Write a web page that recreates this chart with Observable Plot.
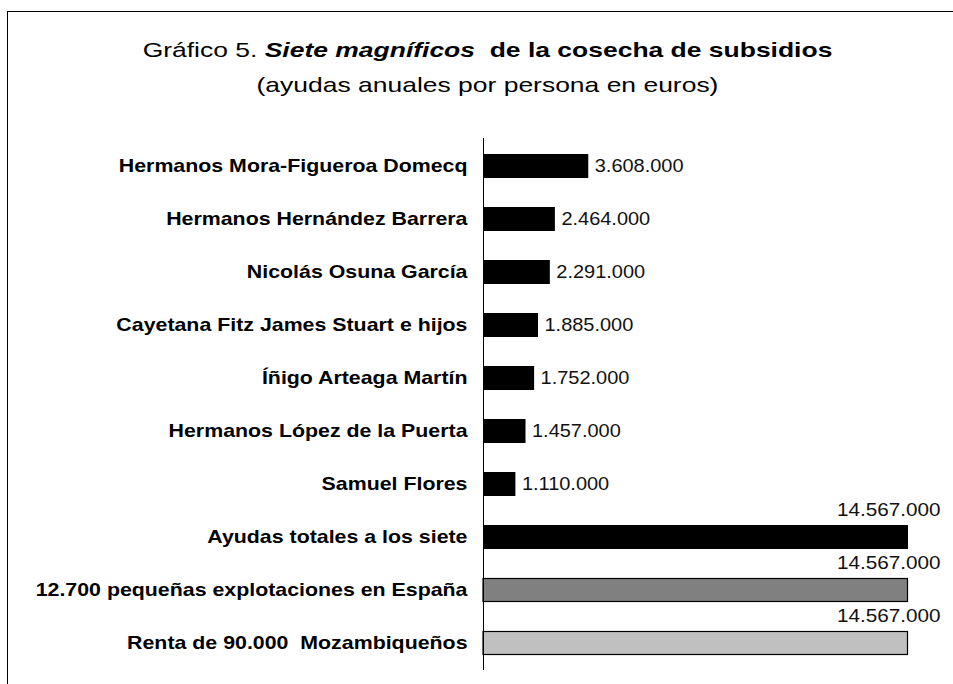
<!DOCTYPE html>
<html>
<head>
<meta charset="utf-8">
<script src="https://cdn.jsdelivr.net/npm/d3@7"></script>
<script src="https://cdn.jsdelivr.net/npm/@observablehq/plot@0.6"></script>
<style>
  html, body { margin: 0; padding: 0; background: #fff; overflow: hidden; }
  body { width: 953px; height: 684px; position: relative; font-family: "Liberation Sans", Arial, sans-serif; }
  #frame { position: absolute; left: 7px; top: 11px; width: 960px; height: 700px; border-left: 1px solid #000; border-top: 1px solid #000; pointer-events: none; }
  #title { height: 120px; box-sizing: border-box; padding-top: 32px; text-align: center; color: #000; font-size: 21px; line-height: 35px; }
  #title .l1, #title .l2 { transform: translateX(11px) scaleX(1.26); transform-origin: 50% 0; white-space: nowrap; }
  #chart svg { display: block; }
</style>
</head>
<body>
<div id="frame"></div>
<div id="title">
  <div class="l1">Gráfico 5. <b><i>Siete magníficos</i></b>&nbsp; <b>de la cosecha de subsidios</b></div>
  <div class="l2">(ayudas anuales por persona en euros)</div>
</div>
<div id="chart"></div>
<script>
const categories = [
  "Hermanos Mora-Figueroa Domecq",
  "Hermanos Hernández Barrera",
  "Nicolás Osuna García",
  "Cayetana Fitz James Stuart e hijos",
  "Íñigo Arteaga Martín",
  "Hermanos López de la Puerta",
  "Samuel Flores",
  "Ayudas totales a los siete",
  "12.700 pequeñas explotaciones en España",
  "Renta de 90.000  Mozambiqueños"
];
const values = [3608000, 2464000, 2291000, 1885000, 1752000, 1457000, 1110000, 14567000, 14567000, 14567000];
const valueLabels = ["3.608.000", "2.464.000", "2.291.000", "1.885.000", "1.752.000", "1.457.000", "1.110.000", "14.567.000", "14.567.000", "14.567.000"];
const fills = ["#000000", "#000000", "#000000", "#000000", "#000000", "#000000", "#000000", "#000000", "#808080", "#c0c0c0"];

const data = categories.map((c, i) => ({name: c, value: values[i], label: valueLabels[i], fill: fills[i], big: i >= 7, outlined: i >= 8}));

const chart = Plot.plot({
  width: 953,
  height: 564,
  marginLeft: 483,
  marginRight: 45,
  marginTop: 18,
  marginBottom: 14,
  style: {fontFamily: "Liberation Sans, Arial, sans-serif", background: "#fff", color: "#000"},
  x: {domain: [0, 14567000], axis: null},
  y: {domain: categories, paddingInner: 0.55, paddingOuter: 0.275, label: null},
  marks: [
    Plot.barX(data.filter(d => !d.outlined), {y: "name", x: "value", fill: "fill"}),
    Plot.barX(data.filter(d => d.outlined), {y: "name", x: "value", fill: "fill", stroke: "#000", strokeWidth: 1.2, insetTop: 0.5, insetBottom: 0.5, insetRight: 0.5}),
    Plot.ruleX([0], {stroke: "#000", strokeWidth: 1}),
    Plot.axisY({tickSize: 0, tickPadding: 16, fontSize: 17.5, fontWeight: "bold", label: null, fill: "#000"}),
    Plot.text(data.filter(d => !d.big), {y: "name", x: "value", text: "label", dx: 6, textAnchor: "start", fontSize: 18, fill: "#111"}),
    Plot.text(data.filter(d => d.big), {y: "name", x: "value", text: "label", dx: 32, dy: -27, textAnchor: "end", fontSize: 18, fill: "#111"})
  ]
});
// the reference's lettering is stretched horizontally: scale each label about its anchor
function stretch(t, s) {
  const tr = t.getAttribute("transform") || "";
  const x = parseFloat(t.getAttribute("x") || 0), y = parseFloat(t.getAttribute("y") || 0);
  t.setAttribute("transform", `${tr} translate(${x},${y}) scale(${s},1) translate(${-x},${-y})`);
}
chart.querySelectorAll('g[aria-label="y-axis tick label"] text').forEach(t => stretch(t, 1.22));
const textGroups = chart.querySelectorAll('g[aria-label="text"]');
textGroups.forEach((g, gi) => g.querySelectorAll("text").forEach(t => stretch(t, gi === 0 ? 1.11 : 1.15)));
document.getElementById("chart").appendChild(chart);
</script>
</body>
</html>
